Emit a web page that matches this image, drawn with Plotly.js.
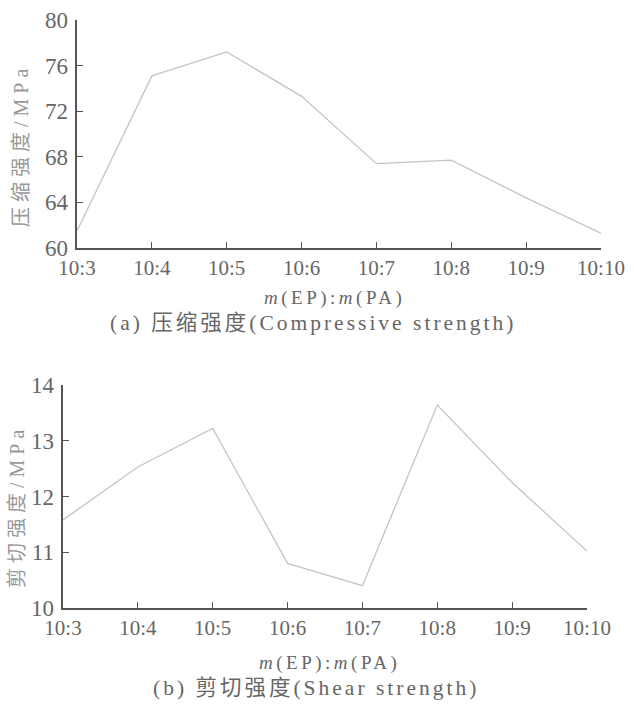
<!DOCTYPE html>
<html>
<head>
<meta charset="utf-8">
<script src="https://cdn.plot.ly/plotly-3.0.1.min.js"></script>
<style>html,body{margin:0;padding:0;background:#fff;}#chart{width:634px;height:718px;}</style>
</head>
<body>
<div id="chart"></div>
<script>
const ratios = ['10:3','10:4','10:5','10:6','10:7','10:8','10:9','10:10'];
const compressive = [61.5, 75.1, 77.2, 73.3, 67.4, 67.7, 64.4, 61.3];
const shear = [11.58, 12.53, 13.22, 10.8, 10.4, 13.64, 12.25, 11.02];
const compTicks = [60, 64, 68, 72, 76, 80];
const shearTicks = [10, 11, 12, 13, 14];

const serif = '"Liberation Serif", "Times New Roman", serif';
const cjk = '"Liberation Serif", "Noto Sans CJK SC", serif';
const txtColor = '#666666';
const axisColor = '#555555';
const lineColor = '#c4c4c4';

function sp(t, px) { return '<span style="letter-spacing:' + px + 'px">' + t + '</span>'; }

const traces = [
  {x: ratios, y: compressive, type: 'scatter', mode: 'lines', xaxis: 'x', yaxis: 'y',
   line: {color: lineColor, width: 1.3}, hoverinfo: 'skip'},
  {x: ratios, y: shear, type: 'scatter', mode: 'lines', xaxis: 'x2', yaxis: 'y2',
   line: {color: lineColor, width: 1.3}, hoverinfo: 'skip'}
];

function xax(domain, anchor) {
  return {domain: domain, anchor: anchor, type: 'category', range: [0, 7],
    showline: true, linewidth: 2, linecolor: axisColor, showgrid: false, zeroline: false,
    ticks: 'inside', ticklen: 6, tickwidth: 1, tickcolor: axisColor,
    tickfont: {family: serif, size: 21, color: txtColor}, fixedrange: true};
}
function yax(domain, anchor, range, vals) {
  return {domain: domain, anchor: anchor, range: range, tickvals: vals,
    showline: true, linewidth: 2.5, linecolor: axisColor, showgrid: false, zeroline: false,
    ticks: 'inside', ticklen: 6, tickwidth: 1, tickcolor: axisColor, ticklabelstandoff: 2,
    tickfont: {family: serif, size: 23, color: txtColor}, fixedrange: true};
}

const layout = {
  width: 634, height: 718,
  margin: {l: 0, r: 0, t: 0, b: 0},
  paper_bgcolor: '#fff', plot_bgcolor: '#fff',
  showlegend: false,
  xaxis: xax([77/634, 601/634], 'y'),
  yaxis: yax([(718-248)/718, (718-20)/718], 'x', [60, 80], compTicks),
  xaxis2: xax([63/634, 587/634], 'y2'),
  yaxis2: yax([(718-608)/718, (718-385)/718], 'x2', [10, 14], shearTicks),
  annotations: [
    {text: sp('<i>m</i>(EP):<i>m</i>(PA)', 3.5), xref: 'paper', yref: 'paper', x: 334/634, y: 1-298/718,
     showarrow: false, xanchor: 'center', yanchor: 'middle', font: {family: serif, size: 19, color: txtColor}},
    {text: sp('(a) 压缩强度(Compressive strength)', 3), xref: 'paper', yref: 'paper', x: 313/634, y: 1-323/718,
     showarrow: false, xanchor: 'center', yanchor: 'middle', font: {family: cjk, size: 21.5, color: txtColor}},
    {text: sp('压缩强度/MPa', 5), xref: 'paper', yref: 'paper', x: 21/634, y: 1-146/718, textangle: -90,
     showarrow: false, xanchor: 'center', yanchor: 'middle', font: {family: cjk, size: 20, color: '#999'}},
    {text: sp('<i>m</i>(EP):<i>m</i>(PA)', 3.5), xref: 'paper', yref: 'paper', x: 329/634, y: 1-663/718,
     showarrow: false, xanchor: 'center', yanchor: 'middle', font: {family: serif, size: 19, color: txtColor}},
    {text: sp('(b) 剪切强度(Shear strength)', 3), xref: 'paper', yref: 'paper', x: 316/634, y: 1-688/718,
     showarrow: false, xanchor: 'center', yanchor: 'middle', font: {family: cjk, size: 21.5, color: txtColor}},
    {text: sp('剪切强度/MPa', 5), xref: 'paper', yref: 'paper', x: 17/634, y: 1-507/718, textangle: -90,
     showarrow: false, xanchor: 'center', yanchor: 'middle', font: {family: cjk, size: 20, color: '#999'}}
  ]
};

Plotly.newPlot('chart', traces, layout, {staticPlot: true, displayModeBar: false});
</script>
</body>
</html>
